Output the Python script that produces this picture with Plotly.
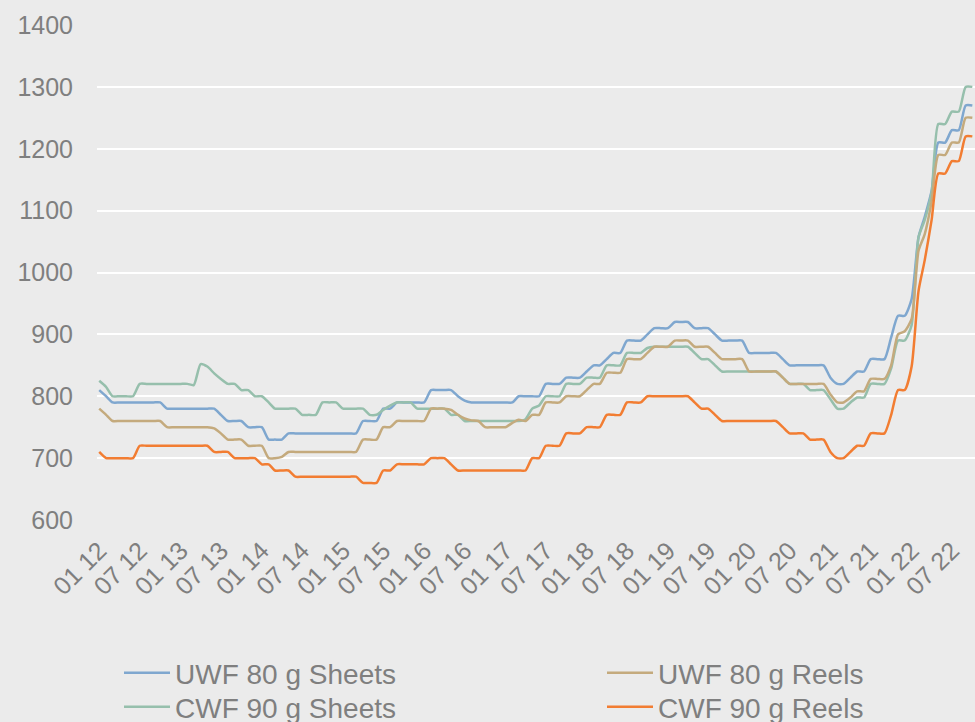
import pandas as pd
import plotly.graph_objects as go

# Monthly observations, Jan 2012 .. Oct 2022
months = pd.date_range("2012-01-01", periods=130, freq="MS")

def expand(spec):
    out = []
    for val, n in spec:
        out.extend([val] * n)
    return out

uwf_sheets = expand([
    (810, 1), (800, 1), (790, 8), (780, 8), (770, 1), (760, 3), (750, 3), (730, 3),
    (740, 11), (760, 3), (780, 2), (790, 5), (810, 4), (800, 1), (793, 1), (790, 7),
    (800, 4), (820, 3), (830, 3), (840, 1), (850, 2), (860, 1), (870, 2), (890, 3),
    (900, 1), (910, 3), (920, 3), (910, 3), (900, 1), (890, 4), (870, 5), (860, 1),
    (850, 6), (830, 1), (820, 2), (830, 1), (840, 2), (860, 3), (895, 1), (930, 2),
    (957, 1), (1057, 1), (1090, 1), (1132, 1), (1210, 2), (1230, 2), (1270, 2),
])

uwf_reels = expand([
    (780, 1), (770, 1), (760, 8), (750, 7), (748, 1), (740, 1), (730, 3), (720, 3),
    (700, 2), (702, 1), (710, 11), (730, 3), (750, 2), (760, 5), (780, 3), (778, 1),
    (770, 1), (764, 1), (761, 1), (760, 1), (750, 4), (757, 1), (762, 1), (760, 1),
    (770, 2), (790, 3), (800, 3), (810, 1), (820, 2), (838, 3), (860, 3), (870, 1),
    (880, 3), (890, 3), (880, 3), (870, 1), (860, 4), (840, 5), (830, 1), (820, 6),
    (803, 1), (790, 2), (798, 1), (808, 2), (828, 3), (850, 1), (900, 1), (905, 1),
    (925, 1), (1035, 1), (1062, 1), (1115, 1), (1190, 2), (1210, 2), (1250, 2),
])

cwf_sheets = expand([
    (825, 1), (815, 1), (800, 4), (820, 8), (818, 1), (852, 1), (848, 1), (837, 1),
    (828, 1), (820, 2), (810, 2), (800, 2), (790, 1), (780, 4), (770, 3), (790, 3),
    (780, 4), (770, 2), (778, 1), (785, 1), (790, 3), (780, 5), (770, 2), (760, 9),
    (763, 1), (780, 1), (785, 1), (800, 3), (820, 3), (830, 3), (850, 3), (870, 3),
    (878, 1), (880, 6), (870, 1), (860, 2), (850, 1), (840, 9), (830, 1), (820, 3),
    (810, 3), (795, 1), (780, 2), (790, 1), (798, 2), (820, 3), (845, 1), (890, 2),
    (915, 1), (1057, 1), (1085, 1), (1130, 1), (1240, 2), (1260, 2), (1300, 2),
])

cwf_reels = expand([
    (710, 1), (700, 5), (720, 11), (710, 3), (700, 4), (690, 2), (680, 3), (670, 10),
    (660, 3), (680, 2), (690, 5), (700, 3), (690, 1), (680, 11), (700, 2), (720, 3),
    (740, 3), (750, 3), (770, 3), (790, 3), (800, 7), (790, 1), (780, 2), (770, 1),
    (760, 9), (750, 1), (740, 3), (730, 3), (710, 1), (700, 2), (710, 1), (720, 2),
    (740, 3), (770, 1), (810, 2), (848, 1), (970, 1), (1020, 1), (1085, 1),
    (1160, 2), (1180, 2), (1220, 2),
])

series_names = ["UWF 80 g Sheets", "CWF 90 g Sheets", "UWF 80 g Reels", "CWF 90 g Reels"]
series_values = [uwf_sheets, cwf_sheets, uwf_reels, cwf_reels]
series_colors = ["#7fa7cf", "#96bfac", "#c4aa7d", "#f27d32"]
series_legend = ["legend", "legend2", "legend3", "legend4"]

y_ticks = [600, 700, 800, 900, 1000, 1100, 1200, 1300, 1400]

FONT = "Liberation Sans, Arial, sans-serif"
GREY = "#7f7f7f"
BG = "#ebebeb"

fig = go.Figure()
for name, vals, col, lg in zip(series_names, series_values, series_colors, series_legend):
    fig.add_trace(go.Scatter(
        x=months[:len(vals)], y=vals, name=name, mode="lines", legend=lg,
        line=dict(color=col, width=2.5, shape="spline", smoothing=0.6),
    ))

legend_common = dict(
    orientation="v", xref="container", yref="container",
    xanchor="left", yanchor="top", itemwidth=46,
    font=dict(size=28, color=GREY, family=FONT),
    bgcolor="rgba(0,0,0,0)",
)
col_x = [119, 602]
row_top = [648, 682]

fig.update_layout(
    width=975, height=722,
    margin=dict(l=97, r=0, t=25, b=202, autoexpand=False),
    paper_bgcolor=BG, plot_bgcolor=BG,
    font=dict(family=FONT, color=GREY, size=25),
    showlegend=True,
    legend=dict(x=col_x[0] / 975, y=1 - row_top[0] / 722, **legend_common),
    legend2=dict(x=col_x[0] / 975, y=1 - row_top[1] / 722, **legend_common),
    legend3=dict(x=col_x[1] / 975, y=1 - row_top[0] / 722, **legend_common),
    legend4=dict(x=col_x[1] / 975, y=1 - row_top[1] / 722, **legend_common),
)

fig.update_yaxes(
    range=[600, 1400], tickvals=y_ticks, showgrid=True, gridcolor="white",
    gridwidth=2, zeroline=False, showline=False, ticks="", automargin=False,
    tickfont=dict(size=25, color=GREY, family=FONT), ticklabelstandoff=23,
)
fig.update_xaxes(
    type="date", range=["2011-12-22", "2022-10-13"],
    tickformat="%m %y", dtick="M6", tick0="2012-01-01", automargin=False,
    tickangle=-45, showgrid=False, zeroline=False, showline=False, ticks="",
    tickfont=dict(size=25, color=GREY, family=FONT), ticklabelstandoff=10,
)

fig.write_html(
    "out.html",
    config={"displayModeBar": False},
    post_script="document.body.style.margin='0';document.body.style.padding='0';"
                "document.body.style.overflow='hidden';",
)
